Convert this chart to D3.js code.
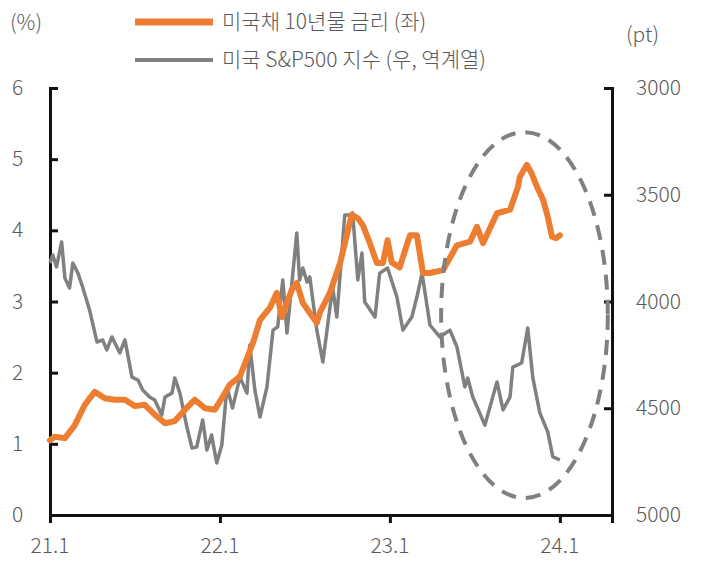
<!DOCTYPE html>
<html><head><meta charset="utf-8">
<script src="https://cdn.jsdelivr.net/npm/d3@7.9.0/dist/d3.min.js"></script>
<style>body{margin:0;background:#fff}text{font-family:"Noto Sans CJK KR","Noto Sans",sans-serif;font-weight:300;fill:#595959}</style>
</head><body><svg id="chart" width="709" height="566"></svg>
<script>
// months since 2021-01 and values
const bondMonths = [0,0.35,1.06,1.76,2.47,3.18,3.88,4.59,5.29,6,6.7,7.41,8.12,8.82,9.53,10.23,10.94,11.64,12.07,12.7,13.41,14.33,14.82,15.53,16.02,16.37,17.08,17.43,17.85,18.84,19.06,19.76,20.47,21.03,21.31,21.74,22.09,22.58,23.08,23.5,23.85,24.14,24.7,25.41,25.9,26.32,26.82,27.73,28.72,29.64,30.13,30.56,31.55,32.46,33.03,33.17,33.66,33.95,34.37,34.79,35.14,35.43,35.71,35.99];
const bondYield = [1.05,1.1,1.08,1.26,1.55,1.73,1.64,1.62,1.62,1.53,1.55,1.41,1.29,1.32,1.48,1.62,1.5,1.48,1.62,1.83,1.95,2.42,2.74,2.91,3.12,2.78,3.16,3.26,2.98,2.7,2.85,3.12,3.54,4.0,4.22,4.17,4.07,3.82,3.54,3.54,3.86,3.55,3.48,3.93,3.93,3.4,3.4,3.44,3.79,3.84,4.05,3.82,4.24,4.29,4.61,4.75,4.92,4.82,4.61,4.43,4.19,3.91,3.89,3.93];
const spxMonths = [0,0.21,0.49,0.85,1.06,1.41,1.62,1.98,2.33,2.82,3.32,3.74,4.02,4.38,4.94,5.29,5.79,6.21,6.56,7.06,7.41,7.9,8.12,8.61,8.82,9.17,9.67,10.02,10.37,10.8,11.08,11.43,11.79,12.14,12.49,12.91,13.41,13.9,14.11,14.47,14.82,15.31,15.74,16.09,16.44,16.73,17.43,17.64,17.85,18.14,18.35,18.84,19.27,19.97,20.25,20.82,21.17,21.38,21.74,22.02,22.23,22.94,23.29,23.85,24.49,24.91,25.55,25.9,26.25,26.82,27.52,28.23,28.72,29.29,29.5,29.85,30.7,31.19,31.55,31.97,32.46,32.68,33.31,33.73,34.09,34.58,35.14,35.5,35.99];
const spxIndex = [3820,3782,3838,3721,3890,3937,3820,3867,3932,4040,4190,4180,4227,4166,4241,4180,4354,4368,4415,4447,4461,4532,4447,4429,4358,4429,4588,4686,4682,4555,4696,4625,4756,4672,4400,4499,4354,4429,4204,4415,4541,4400,4134,4119,3899,4148,3679,3899,3843,3909,3885,4134,4283,3932,4073,3595,3595,3585,3899,3773,4002,4073,3867,3843,3979,4134,4073,3979,3867,4110,4166,4134,4213,4400,4358,4447,4579,4461,4377,4508,4447,4307,4288,4124,4358,4522,4611,4728,4742];
const xTicks = ["21.1","22.1","23.1","24.1"];
const leftTicks = [0,1,2,3,4,5,6];
const rightTicks = [3000,3500,4000,4500,5000];
const legendLabels = ["미국채 10년물 금리 (좌)","미국 S&P500 지수 (우, 역계열)"];
// highlighted period: centre month, centre yield, half-width months, half-height yield
const focus = {month: 33.5, value: 2.81, rMonths: 5.86, rValue: 2.57};

const toDate = m => new Date(2021, 0, 1 + m * 30.44);
const svg = d3.select("#chart");
const L = 50, R = 612, T = 88, B = 515;

const x = d3.scaleTime().domain([toDate(0), toDate(39.66)]).range([L, R]);
const yL = d3.scaleLinear().domain([0, 6]).range([B, T]);
const yR = d3.scaleLinear().domain([3000, 5000]).range([T, B]);

// axes
const axisColor = "#111";
const gl = svg.append("g").attr("transform", `translate(${L},0)`)
  .call(d3.axisRight(yL).tickValues(leftTicks).tickSize(8).tickFormat(""));
const gr = svg.append("g").attr("transform", `translate(${R},0)`)
  .call(d3.axisLeft(yR).tickValues(rightTicks).tickSize(8).tickFormat(""));
const gb = svg.append("g").attr("transform", `translate(0,${B})`)
  .call(d3.axisBottom(x).tickValues(xTicks.map((d, i) => toDate(i * 12))).tickSize(8).tickFormat(""));
[gl, gr, gb].forEach(g => {
  g.select(".domain").attr("stroke", axisColor).attr("stroke-width", 3);
  g.selectAll(".tick line").attr("stroke", axisColor).attr("stroke-width", 3);
});

svg.selectAll(".lt").data(leftTicks).join("text")
  .attr("x", 12).attr("y", d => yL(d) + 7).attr("font-size", 21).text(d => d);
svg.selectAll(".rt").data(rightTicks).join("text")
  .attr("x", 636).attr("y", d => yR(d) + 7).attr("font-size", 21).text(d => d);
svg.selectAll(".xt").data(xTicks).join("text")
  .attr("x", (d, i) => x(toDate(i * 12))).attr("y", 553).attr("text-anchor", "middle")
  .attr("font-size", 21).text(d => d);
svg.append("text").attr("x", 10).attr("y", 30).attr("font-size", 21).text("(%)");
svg.append("text").attr("x", 626).attr("y", 42).attr("font-size", 21).text("(pt)");

// lines
const spx = spxMonths.map((m, i) => ({d: toDate(m), v: spxIndex[i]}));
const bond = bondMonths.map((m, i) => ({d: toDate(m), v: bondYield[i]}));
svg.append("path").datum(spx).attr("fill", "none").attr("stroke", "#808080")
  .attr("stroke-width", 3.5).attr("stroke-linejoin", "round")
  .attr("d", d3.line().x(d => x(d.d)).y(d => yR(d.v)));
svg.append("path").datum(bond).attr("fill", "none").attr("stroke", "#ED7D31")
  .attr("stroke-width", 6).attr("stroke-linejoin", "round").attr("stroke-linecap", "round")
  .attr("d", d3.line().x(d => x(d.d)).y(d => yL(d.v)));

// dashed ellipse
svg.append("ellipse")
  .attr("cx", x(toDate(focus.month))).attr("cy", yL(focus.value))
  .attr("rx", x(toDate(focus.month + focus.rMonths)) - x(toDate(focus.month)))
  .attr("ry", yL(0) - yL(focus.rValue))
  .attr("fill", "none").attr("stroke", "#808080").attr("stroke-width", 4)
  .attr("stroke-dasharray", "15,10");

// legend
const legend = svg.append("g");
[["#ED7D31", 7], ["#808080", 4]].forEach(([c, w], i) => {
  legend.append("line").attr("x1", 135).attr("x2", 213).attr("y1", 22 + i * 38).attr("y2", 22 + i * 38)
    .attr("stroke", c).attr("stroke-width", w);
  legend.append("text").attr("x", 222).attr("y", 29 + i * 38).attr("font-size", 21).text(legendLabels[i]);
});
</script></body></html>
